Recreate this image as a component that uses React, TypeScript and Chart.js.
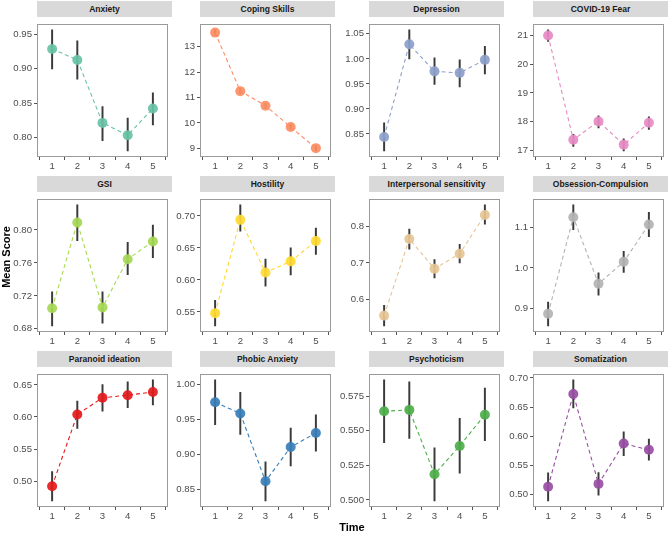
import React, { useEffect, useRef } from "react";
import { Chart, registerables } from "chart.js";

Chart.register(...registerables);

// ---------- data ----------
const times = [1, 2, 3, 4, 5];

const panelTitles = [
  "Anxiety", "Coping Skills", "Depression", "COVID-19 Fear",
  "GSI", "Hostility", "Interpersonal sensitivity", "Obsession-Compulsion",
  "Paranoid ideation", "Phobic Anxiety", "Psychoticism", "Somatization",
];

const panelColors = [
  "#66C2A5", "#FC8D62", "#8DA0CB", "#E78AC3",
  "#A6D854", "#FFD92F", "#E5C494", "#B3B3B3",
  "#E41A1C", "#377EB8", "#4DAF4A", "#984EA3",
];

const anxietyMean = [0.929, 0.913, 0.821, 0.803, 0.842];
const anxietyLow = [0.900, 0.885, 0.795, 0.780, 0.818];
const anxietyHigh = [0.957, 0.941, 0.845, 0.828, 0.865];
const anxietyTicks = ["0.80", "0.85", "0.90", "0.95"];

const copingMean = [13.55, 11.25, 10.675, 9.84, 9.01];
const copingLow = [13.45, 11.16, 10.58, 9.75, 8.90];
const copingHigh = [13.66, 11.35, 10.77, 9.94, 9.11];
const copingTicks = ["9", "10", "11", "12", "13"];

const depressionMean = [0.844, 1.029, 0.975, 0.972, 0.998];
const depressionLow = [0.816, 1.000, 0.949, 0.944, 0.970];
const depressionHigh = [0.872, 1.058, 1.002, 0.998, 1.025];
const depressionTicks = ["0.85", "0.90", "0.95", "1.00", "1.05"];

const covidMean = [21.0, 17.37, 18.01, 17.2, 17.96];
const covidLow = [20.8, 17.14, 17.78, 16.98, 17.73];
const covidHigh = [21.2, 17.56, 18.2, 17.4, 18.17];
const covidTicks = ["17", "18", "19", "20", "21"];

const gsiMean = [0.705, 0.809, 0.706, 0.7645, 0.786];
const gsiLow = [0.6835, 0.787, 0.687, 0.7456, 0.7664];
const gsiHigh = [0.725, 0.8305, 0.725, 0.785, 0.806];
const gsiTicks = ["0.68", "0.72", "0.76", "0.80"];

const hostilityMean = [0.548, 0.694, 0.6116, 0.629, 0.6607];
const hostilityLow = [0.528, 0.676, 0.590, 0.6076, 0.640];
const hostilityHigh = [0.568, 0.7174, 0.6325, 0.650, 0.681];
const hostilityTicks = ["0.55", "0.60", "0.65", "0.70"];

const interpersonalMean = [0.557, 0.765, 0.684, 0.725, 0.830];
const interpersonalLow = [0.529, 0.737, 0.659, 0.700, 0.805];
const interpersonalHigh = [0.585, 0.792, 0.709, 0.750, 0.8575];
const interpersonalTicks = ["0.6", "0.7", "0.8"];

const obsessionMean = [0.887, 1.125, 0.961, 1.015, 1.107];
const obsessionLow = [0.857, 1.094, 0.933, 0.989, 1.077];
const obsessionHigh = [0.916, 1.1555, 0.988, 1.041, 1.137];
const obsessionTicks = ["0.9", "1.0", "1.1"];

const paranoidMean = [0.492, 0.604, 0.630, 0.634, 0.639];
const paranoidLow = [0.469, 0.582, 0.609, 0.6145, 0.619];
const paranoidHigh = [0.515, 0.625, 0.6505, 0.655, 0.658];
const paranoidTicks = ["0.50", "0.55", "0.60", "0.65"];

const phobicMean = [0.974, 0.958, 0.861, 0.910, 0.930];
const phobicLow = [0.942, 0.928, 0.833, 0.883, 0.904];
const phobicHigh = [1.006, 0.988, 0.889, 0.937, 0.956];
const phobicTicks = ["0.85", "0.90", "0.95", "1.00"];

const psychoticismMean = [0.564, 0.565, 0.5185, 0.539, 0.5615];
const psychoticismLow = [0.5414, 0.5444, 0.4993, 0.5194, 0.5428];
const psychoticismHigh = [0.5867, 0.5853, 0.5377, 0.559, 0.5807];
const psychoticismTicks = ["0.500", "0.525", "0.550", "0.575"];

const somatizationMean = [0.5135, 0.6724, 0.5184, 0.5875, 0.5768];
const somatizationLow = [0.4892, 0.6486, 0.4989, 0.567, 0.5589];
const somatizationHigh = [0.5373, 0.6968, 0.5378, 0.6076, 0.5951];
const somatizationTicks = ["0.50", "0.55", "0.60", "0.65", "0.70"];

const panelMeans = [anxietyMean, copingMean, depressionMean, covidMean, gsiMean, hostilityMean, interpersonalMean, obsessionMean, paranoidMean, phobicMean, psychoticismMean, somatizationMean];
const panelLows = [anxietyLow, copingLow, depressionLow, covidLow, gsiLow, hostilityLow, interpersonalLow, obsessionLow, paranoidLow, phobicLow, psychoticismLow, somatizationLow];
const panelHighs = [anxietyHigh, copingHigh, depressionHigh, covidHigh, gsiHigh, hostilityHigh, interpersonalHigh, obsessionHigh, paranoidHigh, phobicHigh, psychoticismHigh, somatizationHigh];
const panelTicks = [anxietyTicks, copingTicks, depressionTicks, covidTicks, gsiTicks, hostilityTicks, interpersonalTicks, obsessionTicks, paranoidTicks, phobicTicks, psychoticismTicks, somatizationTicks];

// ---------- layout ----------
const FONT = "'Liberation Sans', Arial, Helvetica, sans-serif";
const colLefts = [37, 200, 369, 533];
const stripTops = [1, 176, 351];
const STRIP_H = 16;
const PANEL_W = 135;
const PANEL_H = 140;
const YAXIS_W = 36;
const XAXIS_H = 18;

const panelBorder = {
  id: "panelBorder",
  afterDraw(chart: any) {
    const { ctx, chartArea: a } = chart;
    ctx.save();
    ctx.strokeStyle = "#9A9A9A";
    ctx.lineWidth = 1;
    ctx.strokeRect(
      Math.round(a.left) + 0.5,
      Math.round(a.top) + 0.5,
      Math.round(a.right - a.left) - 1,
      Math.round(a.bottom - a.top) - 1
    );
    ctx.restore();
  },
};

export default function App() {
  const refs = useRef<(HTMLCanvasElement | null)[]>([]);

  useEffect(() => {
    const charts: Chart[] = [];
    panelTitles.forEach((_, p) => {
      const canvas = refs.current[p];
      if (!canvas) return;
      const mean = panelMeans[p];
      const lo = panelLows[p];
      const hi = panelHighs[p];
      const tickLabels = panelTicks[p];
      const color = panelColors[p];
      const dMin = Math.min(...lo);
      const dMax = Math.max(...hi);
      const pad = (dMax - dMin) * 0.05;
      const chart = new Chart(canvas, {
        type: "line",
        data: {
          datasets: [
            {
              type: "line",
              data: times.map((t, i) => ({ x: t, y: mean[i] })),
              borderColor: color,
              borderWidth: 1.1,
              borderDash: [4, 3],
              pointRadius: 5,
              pointHoverRadius: 5,
              pointBackgroundColor: color + "EB",
              pointBorderWidth: 0,
              fill: false,
              tension: 0,
              order: 0,
            } as any,
            {
              type: "bar",
              data: times.map((t, i) => ({ x: t, y: [lo[i], hi[i]] })),
              backgroundColor: "#3A3A3A",
              barThickness: 1.3,
              grouped: false,
              order: 1,
            } as any,
          ],
        },
        options: {
          responsive: false,
          animation: false,
          devicePixelRatio: 1,
          layout: { padding: { top: 1, right: 1, left: 0, bottom: 0 } },
          plugins: {
            legend: { display: false },
            tooltip: { enabled: false },
            title: { display: false },
          },
          scales: {
            x: {
              type: "linear",
              min: 0.4,
              max: 5.6,
              offset: false,
              afterBuildTicks: (ax: any) => {
                ax.ticks = times.map((v) => ({ value: v }));
              },
              afterFit: (ax: any) => {
                ax.height = XAXIS_H;
              },
              grid: { drawOnChartArea: false, drawTicks: true, tickLength: 3, color: "#555555" },
              border: { display: false },
              ticks: {
                font: { family: FONT, size: 9.6 },
                color: "#4D4D4D",
                padding: 1,
                maxRotation: 0,
                autoSkip: false,
                callback: (v: any) => String(v),
              },
            },
            y: {
              type: "linear",
              min: dMin - pad,
              max: dMax + pad,
              afterBuildTicks: (ax: any) => {
                ax.ticks = tickLabels.map((s) => ({ value: parseFloat(s) }));
              },
              afterFit: (ax: any) => {
                ax.width = YAXIS_W;
              },
              grid: { drawOnChartArea: false, drawTicks: true, tickLength: 3, color: "#555555" },
              border: { display: false },
              ticks: {
                font: { family: FONT, size: 9.6 },
                color: "#4D4D4D",
                padding: 2,
                autoSkip: false,
                callback: (_v: any, i: number) => tickLabels[i],
              },
            },
          },
        } as any,
        plugins: [panelBorder],
      });
      charts.push(chart);
    });
    return () => charts.forEach((c) => c.destroy());
  }, []);

  return (
    <div style={{ position: "absolute", left: 0, top: 0, width: 670, height: 533, background: "#fff", fontFamily: FONT }}>
      {panelTitles.map((title, p) => {
        const col = p % 4;
        const row = Math.floor(p / 4);
        const left = colLefts[col];
        const stripTop = stripTops[row];
        const panelTop = stripTop + STRIP_H;
        return (
          <React.Fragment key={title}>
            <div
              style={{
                position: "absolute",
                left,
                top: stripTop,
                width: PANEL_W,
                height: STRIP_H,
                background: "#D9D9D9",
                color: "#1A1A1A",
                fontWeight: "bold",
                fontSize: 8.5,
                lineHeight: STRIP_H + "px",
                textAlign: "center",
                whiteSpace: "nowrap",
              }}
            >
              {title}
            </div>
            <canvas
              ref={(el) => {
                refs.current[p] = el;
              }}
              width={YAXIS_W + PANEL_W + 1}
              height={1 + PANEL_H + XAXIS_H}
              style={{
                position: "absolute",
                left: left - YAXIS_W,
                top: panelTop - 1,
                width: YAXIS_W + PANEL_W + 1,
                height: 1 + PANEL_H + XAXIS_H,
              }}
            />
          </React.Fragment>
        );
      })}
      <div
        style={{
          position: "absolute",
          left: 6 - 40,
          top: 257 - 8,
          width: 80,
          height: 16,
          lineHeight: "16px",
          textAlign: "center",
          fontWeight: "bold",
          fontSize: 11,
          color: "#000",
          transform: "rotate(-90deg)",
          whiteSpace: "nowrap",
        }}
      >
        Mean Score
      </div>
      <div
        style={{
          position: "absolute",
          left: 352 - 40,
          top: 527 - 8,
          width: 80,
          height: 16,
          lineHeight: "16px",
          textAlign: "center",
          fontWeight: "bold",
          fontSize: 11,
          color: "#000",
          whiteSpace: "nowrap",
        }}
      >
        Time
      </div>
    </div>
  );
}
